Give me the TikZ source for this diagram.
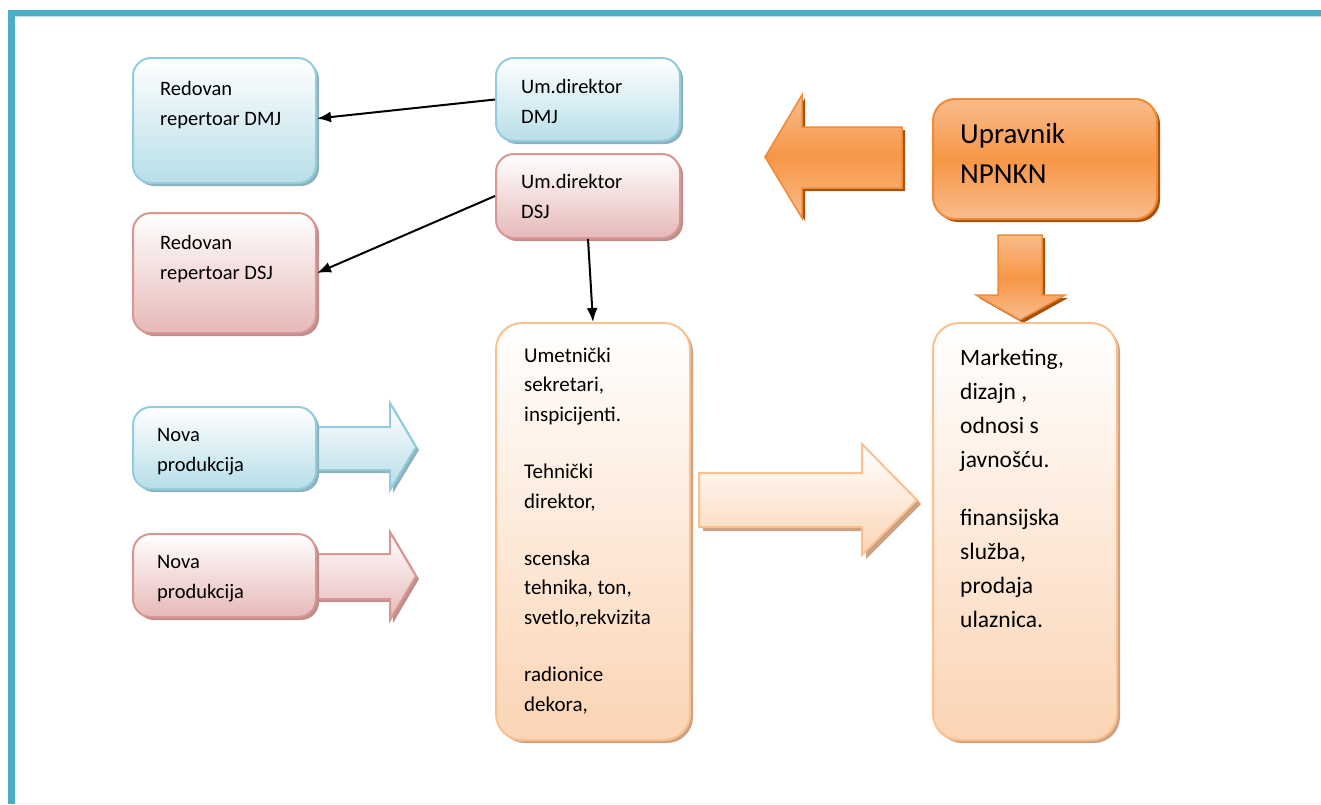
\documentclass[tikz,border=0pt]{standalone}
\usepackage{fontspec}
\setmainfont{Carlito}
\usetikzlibrary{arrows.meta,shadows}
\definecolor{frameblue}{HTML}{4BACC6}
\definecolor{blueedge}{HTML}{93CDDD}
\definecolor{bluefill}{HTML}{B7DEE8}
\definecolor{blueshadow}{HTML}{8FB1BB}
\definecolor{pinkedge}{HTML}{D99694}
\definecolor{pinkfill}{HTML}{E6B9B8}
\definecolor{pinkshadow}{HTML}{BE8E8C}
\definecolor{peachedge}{HTML}{FAC090}
\definecolor{peachfill}{HTML}{FBD4B4}
\definecolor{peachshadow}{HTML}{CCA283}
\definecolor{orangemid}{HTML}{F79646}
\definecolor{orangelight}{HTML}{F9BC8C}
\definecolor{orangeedge}{HTML}{F08A36}
\definecolor{orangeshadow}{HTML}{A5520E}
\begin{document}
\begin{tikzpicture}[x=1pt,y=-1pt,
  box/.style={rounded corners=18pt,line width=2pt,inner sep=0pt},
  bluebox/.style={box,draw=blueedge,top color=white,bottom color=bluefill,
    drop shadow={shadow xshift=3pt,shadow yshift=-3pt,fill=blueshadow,opacity=1}},
  pinkbox/.style={box,draw=pinkedge,top color=white,bottom color=pinkfill,
    drop shadow={shadow xshift=3pt,shadow yshift=-3pt,fill=pinkshadow,opacity=1}},
  peachbox/.style={box,rounded corners=26pt,draw=peachedge,top color=white,bottom color=peachfill,
    drop shadow={shadow xshift=3pt,shadow yshift=-3pt,fill=peachshadow,opacity=1}},
  orangebox/.style={box,rounded corners=22pt,draw=orangeedge,top color=orangelight,bottom color=orangelight,middle color=orangemid,
    drop shadow={shadow xshift=3pt,shadow yshift=-3pt,fill=orangeshadow,opacity=1}},
  blockblue/.style={draw=blueedge,line width=2pt,line join=miter,top color=white,bottom color=bluefill,
    drop shadow={shadow xshift=3pt,shadow yshift=-3pt,fill=blueshadow,opacity=1}},
  blockpink/.style={draw=pinkedge,line width=2pt,line join=miter,top color=white,bottom color=pinkfill,
    drop shadow={shadow xshift=3pt,shadow yshift=-3pt,fill=pinkshadow,opacity=1}},
  blockpeach/.style={draw=peachedge,line width=2pt,line join=miter,top color=white,bottom color=peachfill,
    drop shadow={shadow xshift=4pt,shadow yshift=-4pt,fill=peachshadow,opacity=1}},
  blockorange/.style={draw=orangeedge,line width=1.5pt,line join=miter,top color=orangelight,bottom color=orangelight,middle color=orangemid,
    drop shadow={shadow xshift=3pt,shadow yshift=-3pt,fill=orangeshadow,opacity=1}},
  smalltext/.style={anchor=base west,inner sep=0pt,text width=170pt,align=left,
    font=\fontsize{20.5}{30}\selectfont,
    execute at begin node={\spaceskip=0.226em\relax}},
  conn/.style={line width=2pt,-{Latex[length=14pt,width=11pt]}}
]
\useasboundingbox (0,0) rectangle (1321,804);
% frame
\fill[frameblue] (8,10) rectangle (1321,16);
\fill[frameblue] (8,10) rectangle (15,804);
\draw[blueedge!60,line width=1pt] (15,16.5) -- (1321,16.5);
\draw[black!6,line width=1pt] (15,803) -- (1321,803);

% block arrows (drawn before boxes)
\path[blockblue] (312,427) -- (390,427) -- (390,403) -- (416,447) -- (390,490) -- (390,470) -- (312,470) -- cycle;
\path[blockpink] (312,554) -- (390,554) -- (390,532) -- (416,576) -- (390,620) -- (390,599) -- (312,599) -- cycle;
\path[blockpeach] (699,473) -- (862,473) -- (862,444) -- (917,500) -- (862,555) -- (862,527) -- (699,527) -- cycle;
\path[blockorange] (902,127) -- (802,127) -- (802,95) -- (765,157) -- (802,218) -- (802,188) -- (902,188) -- cycle;
\path[blockorange] (998,235) -- (1042,235) -- (1042,295) -- (1065,295) -- (1020,320) -- (976,295) -- (998,295) -- cycle;

% boxes
\node[bluebox,minimum width=183pt,minimum height=125pt] (rdmj) at (224.5,120.5) {};
\node[bluebox,minimum width=184pt,minimum height=83pt] (udmj) at (588,99.5) {};
\node[pinkbox,minimum width=184pt,minimum height=84pt] (udsj) at (588,196) {};
\node[pinkbox,minimum width=183pt,minimum height=120pt] (rdsj) at (224.5,273) {};
\node[bluebox,minimum width=183pt,minimum height=82pt] (nb) at (224.5,448) {};
\node[pinkbox,minimum width=183pt,minimum height=83pt] (np) at (224.5,575.5) {};
\node[peachbox,minimum width=194pt,minimum height=417pt] (tech) at (593,531.5) {};
\node[peachbox,minimum width=184pt,minimum height=417pt] (mark) at (1025,531.5) {};
\node[orangebox,minimum width=224pt,minimum height=120pt] (upr) at (1045,159) {};

% texts
\node[smalltext] (trdmj) at (160,95) {Redovan\\repertoar DMJ};
\node[smalltext] (tudmj) at (521,93) {Um.direktor\\DMJ};
\node[smalltext] (tudsj) at (521,188) {Um.direktor\\DSJ};
\node[smalltext] (trdsj) at (160,249) {Redovan\\repertoar DSJ};
\node[smalltext] (tnb) at (157,441) {Nova\\produkcija};
\node[smalltext] (tnp) at (157,568) {Nova\\produkcija};
\node[smalltext,font=\fontsize{21}{29.7}\selectfont] (ttech) at (524,362)
  {Umetnički\\sekretari,\\inspicijenti.\\[27.3pt]Tehnički\\direktor,\\[27.3pt]scenska\\tehnika, ton,\\svetlo,rekvizita\\[27.3pt]radionice\\dekora,};
\node[smalltext,font=\fontsize{23.5}{34}\selectfont] (tmark) at (960,365)
  {Marketing,\\dizajn ,\\odnosi s\\javnošću.\\[24pt]finansijska\\služba,\\prodaja\\ulaznica.};
\node[smalltext,font=\fontsize{29}{40}\selectfont] (tupr) at (960,143) {Upravnik\\NPNKN};

% connectors
\draw[conn] (udmj.west) -- ([yshift=2pt]rdmj.east);
\draw[conn] (udsj.west) -- (rdsj.east);
\draw[conn] (udsj.south) -- (tech.north);
\end{tikzpicture}
\end{document}
